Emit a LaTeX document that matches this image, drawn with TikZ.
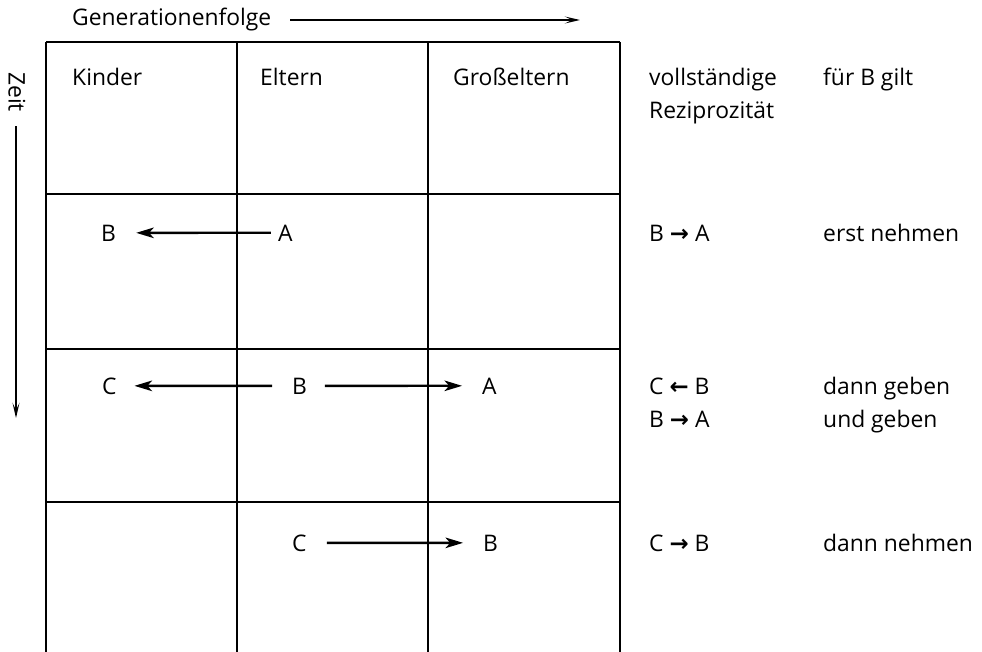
\documentclass[tikz,border=0pt]{standalone}
\usepackage{fontspec}
\setmainfont{Open Sans}
\newfontfamily\arrowfont{DejaVu Sans}
\usetikzlibrary{arrows.meta,positioning}

\tikzset{
  gridline/.style={line width=1.6pt},
  give/.style={-{Stealth[length=15pt,width=9pt,inset=4pt]}, line width=2pt},
  axis arrow/.style={-{Stealth[length=13pt,width=6pt,inset=6pt]}, line width=1.3pt},
  lbl/.style={anchor=base west, inner sep=0pt, font=\fontsize{19.5}{23}\selectfont},
}

\begin{document}
\begin{tikzpicture}[x=0.03cm, y=-0.03cm]
  \useasboundingbox (0,0) rectangle (982,652);

  % axes outside the table
  \node[lbl] (gen) at (72,26) {Generationenfolge};
  \coordinate (genend) at (580,20);
  \draw[axis arrow, shorten <=16pt] (gen.east |- genend) -- (genend);
  \node[lbl, anchor=center, rotate=-90] (zeit) at (17,92) {Zeit};
  \coordinate (zeitend) at (16,418);
  \draw[axis arrow, shorten <=12pt] (zeit.east -| zeitend) -- (zeitend);

  % table
  \draw[gridline] (46,42) -- (620,42);
  \foreach \y in {194,349,502} {
    \draw[gridline] (46,\y) -- (620,\y);
  }
  \foreach \x in {46,237,428,620} {
    \draw[gridline] (\x,42) -- (\x,652);
  }

  % header
  \node[lbl] (kinder) at (72,86) {Kinder};
  \node[lbl] (eltern) at (260,86) {Eltern};
  \node[lbl] (grosseltern) at (453,86) {Großeltern};
  \node[lbl] (voll) at (649,86) {vollständige};
  \node[lbl] (rezi) at (649,119) {Reziprozität};
  \node[lbl] (fuerb) at (823,86) {für B gilt};

  % row 2
  \node[lbl] (b2) at (101,241) {B};
  \node[lbl] (a2) at (278,241) {A};
  \draw[give, shorten <=6pt, shorten >=17pt] (a2.west) -- (b2.east);
  \node[lbl] (r2) at (649,241) {B {\arrowfont\bfseries →} A};
  \node[lbl] (s2) at (823,241) {erst nehmen};

  % row 3
  \node[lbl] (c3) at (102,394) {C};
  \node[lbl] (b3) at (292,394) {B};
  \node[lbl] (a3) at (482,394) {A};
  \draw[give, shorten <=17pt, shorten >=15pt] (b3.west) -- (c3.east);
  \draw[give, shorten <=15pt, shorten >=17pt] (b3.east) -- (a3.west);
  \node[lbl] (r3) at (649,394) {C {\arrowfont\bfseries ←} B};
  \node[lbl] (r3b) at (649,427) {B {\arrowfont\bfseries →} A};
  \node[lbl] (s3) at (823,394) {dann geben};
  \node[lbl] (s3b) at (823,427) {und geben};

  % row 4
  \node[lbl] (c4) at (292,551) {C};
  \node[lbl] (b4) at (483,551) {B};
  \draw[give, shorten <=17pt, shorten >=17pt] (c4.east) -- (b4.west);
  \node[lbl] (r4) at (649,551) {C {\arrowfont\bfseries →} B};
  \node[lbl] (s4) at (823,551) {dann nehmen};
\end{tikzpicture}
\end{document}
